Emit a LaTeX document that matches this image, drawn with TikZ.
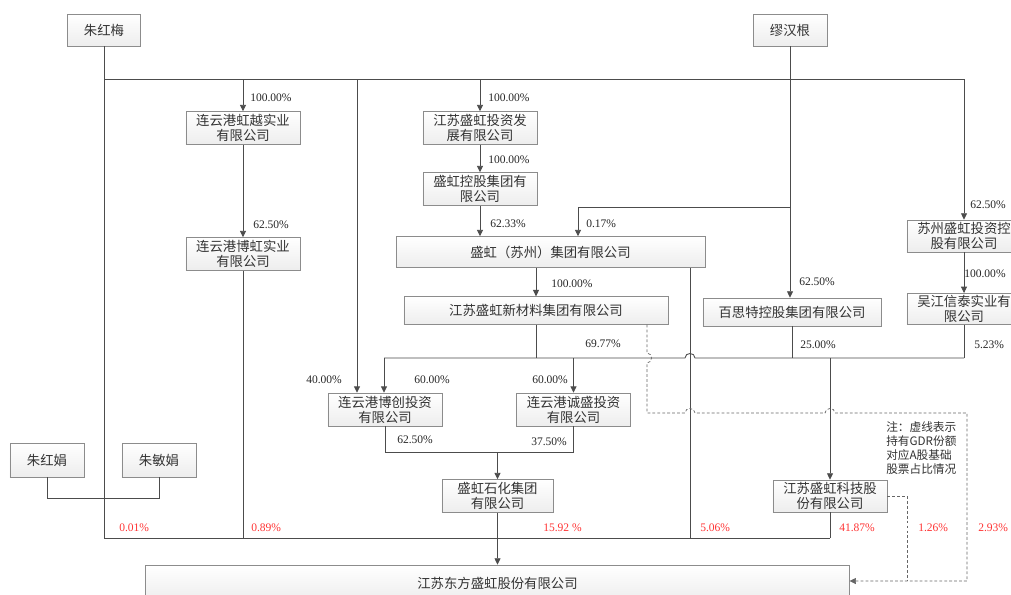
\documentclass[tikz,border=0pt]{standalone}
\usepackage{fontspec}
\setmainfont{Liberation Serif}
\newfontfamily\cjk{Noto Sans CJK SC}
\usetikzlibrary{arrows.meta,positioning}

\begin{document}
\begin{tikzpicture}[x=0.025cm,y=-0.025cm]
\tikzstyle{firm} = [
	shape=rectangle,
	draw=black!45, %grey border
	top color=white, bottom color=black!7, %light shading at the bottom
	text=black!80,
	line width=0.5pt,
	minimum width=2.85cm,
	minimum height=0.82cm,
	inner sep=0pt,
	align=center,
	font=\cjk\fontsize{9.5}{10.7}\selectfont
];
\tikzstyle{share} = [anchor=west, inner sep=0pt, text=black!85, font=\fontsize{8.2}{9}\selectfont];
\tikzstyle{stake} = [share, text=red!80];
\tikzstyle{link} = [line width=0.6pt, draw=black!70];
\tikzstyle{own} = [link, -{Triangle[length=1.6mm,width=1.5mm]}];
\tikzstyle{gdr} = [line width=0.5pt, draw=black!60, dash pattern=on 2pt off 1.5pt];

\clip (0,0) rectangle (1011,594);
\fill[white] (0,0) rectangle (1011,594);

%persons
\node[firm, minimum width=1.83cm, minimum height=0.8cm](Zh) at (104,30) {朱红梅};
\node[firm, minimum width=1.85cm, minimum height=0.8cm](Mi) at (790,30) {缪汉根};
\node[firm, minimum width=1.85cm, minimum height=0.85cm](Zj) at (47,460) {朱红娟};
\node[firm, minimum width=1.85cm, minimum height=0.85cm](Zm) at (159,460) {朱敏娟};

%companies
\node[firm](Hy) at (243,128) {连云港虹越实业\\有限公司};
\node[firm](Bh) at (243,254) {连云港博虹实业\\有限公司};
\node[firm](Tz) at (480,128) {江苏盛虹投资发\\展有限公司};
\node[firm](Kg) at (480,189) {盛虹控股集团有\\限公司};
\node[firm, minimum width=7.72cm, minimum height=0.77cm](Sz) at (550.5,252) {盛虹（苏州）集团有限公司};
\node[firm, minimum width=6.6cm, minimum height=0.69cm](Xc) at (536,310.5) {江苏盛虹新材料集团有限公司};
\node[firm, minimum width=4.45cm, minimum height=0.7cm](Bs) at (792,312) {百思特控股集团有限公司};
\node[firm, minimum height=0.8cm](Sk) at (964,236) {苏州盛虹投资控\\股有限公司};
\node[firm, minimum height=0.78cm](Wj) at (964,309) {吴江信泰实业有\\限公司};
\node[firm](Bc) at (385,409.5) {连云港博创投资\\有限公司};
\node[firm](Cs) at (573.5,409.5) {连云港诚盛投资\\有限公司};
\node[firm, minimum width=2.78cm](Sh) at (497.5,496) {盛虹石化集团\\有限公司};
\node[firm, minimum height=0.8cm](Kj) at (830,496) {江苏盛虹科技股\\份有限公司};
\node[firm, minimum width=17.58cm, minimum height=0.9cm](Df) at (497.5,583) {江苏东方盛虹股份有限公司};

%junctions
\coordinate (t0) at (104,79);
\coordinate (t1) at (964,79);
\coordinate (a40) at (357,79);
\coordinate (c0) at (790,207);
\coordinate (c1) at (578,207);
\coordinate (m0) at (384,358);
\coordinate (m1) at (964,358);
\coordinate (s0) at (384,452);
\coordinate (b0) at (104,538);
\coordinate (b1) at (830,538);
\coordinate (v5) at (690,538);
\coordinate (p0) at (47,498);
\coordinate (g0) at (647,413);
\coordinate (g1) at (967,413);
\coordinate (g2) at (967,581);
\coordinate (g3) at (907,581);

%upper holdings
\draw[link] (t0) -- (t1);
\draw[link] (Zh) -- (b0);
\draw[own] (t0 -| Hy) -- (Hy);
\draw[own] (t0 -| Tz) -- (Tz);
\draw[own] (a40) -- (a40 |- Bc.north);
\draw[own] (t1) -- (Sk);
\draw[own] (Mi) -- (Mi |- Bs.north);
\draw[own] (c0) -- (c1) -- (c1 |- Sz.north);
\draw[own] (Tz) -- (Kg);
\draw[own] (Kg) -- (Kg |- Sz.north);
\draw[own] (Hy) -- (Bh);
\draw[own] (Sk) -- (Wj);
\draw[own] (Xc |- Sz.south) -- (Xc);

%middle bus
\draw[link] (Xc) -- (Xc |- m0);
\draw[link] (m0) -- (685,358) .. controls (685,352) and (695,352) .. (695,358) -- (m1);
\draw[link] (Wj) -- (m1);
\draw[link] (Bs) -- (Bs |- m0);
\draw[own] (m0) -- (m0 |- Bc.north);
\draw[own] (Cs |- m0) -- (Cs);
\draw[own] (Kj |- m0) -- (Kj);
\draw[link] (Bc) -- (Bc |- s0) -- (Cs |- s0) -- (Cs);
\draw[own] (Sh |- s0) -- (Sh);
\draw[own] (Sh) -- (Df);

%bottom bus
\draw[link] (b0) -- (b1);
\draw[link] (Bh) -- (Bh |- b0);
\draw[link] (v5 |- Sz.south) -- (v5);
\draw[link] (Kj) -- (b1);
\draw[link] (Zj) -- (p0) -| (Zm);

%gdr holdings
\draw[gdr, -{Triangle[length=1.6mm,width=1.5mm]}] (Xc.south -| g0) -- (647,353) .. controls (653,353) and (653,363) .. (647,363) -- (g0)
	-- (685,413) .. controls (685,407) and (695,407) .. (695,413)
	-- (825,413) .. controls (825,407) and (835,407) .. (835,413)
	-- (g1) -- (g2) -- (Df.east |- g2);
\draw[gdr] (Kj) -- (Kj.east -| g3) -- (g3);

%shares
\node[share](q1) at (250,98) {100.00\%};
\node[share](q2) at (488,98) {100.00\%};
\node[share](q3) at (488,160) {100.00\%};
\node[share](q4) at (490,224) {62.33\%};
\node[share](q5) at (586,224) {0.17\%};
\node[share](q6) at (253,225) {62.50\%};
\node[share](q7) at (551,284) {100.00\%};
\node[share](q8) at (799,282) {62.50\%};
\node[share](q9) at (970,205) {62.50\%};
\node[share](q10) at (964,274) {100.00\%};
\node[share](q11) at (585,344) {69.77\%};
\node[share](q12) at (800,345) {25.00\%};
\node[share](q13) at (974,345) {5.23\%};
\node[share](q14) at (306,380) {40.00\%};
\node[share](q15) at (414,380) {60.00\%};
\node[share](q16) at (532,380) {60.00\%};
\node[share](q17) at (397,440) {62.50\%};
\node[share](q18) at (531,442) {37.50\%};

%stakes in the listed company
\node[stake](r1) at (119,528) {0.01\%};
\node[stake](r2) at (251,528) {0.89\%};
\node[stake](r3) at (543,528) {15.92 \%};
\node[stake](r4) at (700,528) {5.06\%};
\node[stake](r5) at (839,528) {41.87\%};
\node[stake](r6) at (918,528) {1.26\%};
\node[stake](r7) at (978,528) {2.93\%};

\node[anchor=north west, align=left, inner sep=0pt, text=black!80, font=\cjk\fontsize{8.3}{10.1}\selectfont](note) at (886,421) {注：虚线表示\\持有GDR份额\\对应A股基础\\股票占比情况};
\end{tikzpicture}
\end{document}
